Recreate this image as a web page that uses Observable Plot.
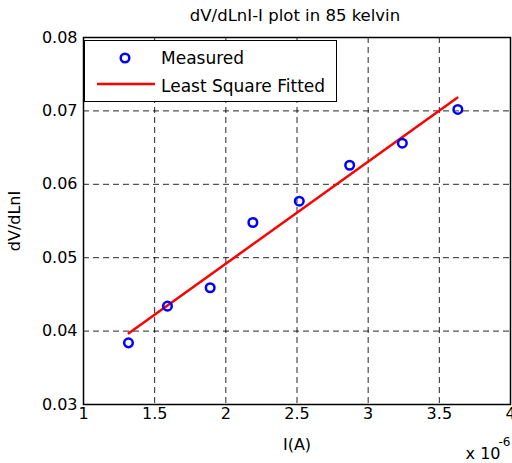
<!DOCTYPE html>
<html>
<head>
<meta charset="utf-8">
<script src="https://cdn.jsdelivr.net/npm/d3@7"></script>
<script src="https://cdn.jsdelivr.net/npm/@observablehq/plot@0.6"></script>
<style>
  html, body { margin: 0; padding: 0; background: white; }
  #wrap { position: relative; width: 512px; height: 463px; font-family: "DejaVu Sans", sans-serif; }
  #legend { position: absolute; left: 84px; top: 40px; width: 251px; height: 60px;
            border: 1px solid black; background: white; }
  #legend svg { display: block; }
</style>
</head>
<body>
<div id="wrap"></div>
<script>
// Current I in units of 1e-6 A (axis multiplier shown as "x 10^-6")
const currentI = [1.316, 1.59, 1.89, 2.19, 2.516, 2.87, 3.24, 3.63];
const dVdLnI   = [0.0384, 0.0434, 0.0459, 0.0548, 0.0577, 0.0626, 0.0656, 0.0702];
// Least-square fitted line end points
const fitI = [1.318, 3.626];
const fitV = [0.0397, 0.0718];
const xTicks = [1, 1.5, 2, 2.5, 3, 3.5, 4];
const yTicks = [0.03, 0.04, 0.05, 0.06, 0.07, 0.08];
const titleText = "dV/dLnI-I plot in 85 kelvin";
const xLabel = "I(A)";
const yLabel = "dV/dLnI";
const expBase = "x 10";
const expPow = "-6";
const legendLabels = ["Measured", "Least Square Fitted"];

const points = currentI.map((x, i) => ({x, y: dVdLnI[i]}));
const fit = fitI.map((x, i) => ({x, y: fitV[i]}));

const chart = Plot.plot({
  width: 512, height: 463,
  marginLeft: 83, marginRight: 2, marginTop: 37, marginBottom: 59,
  style: {fontFamily: "DejaVu Sans", fontSize: "16px", color: "black", background: "white", overflow: "visible"},
  x: {domain: [1, 4]},
  y: {domain: [0.03, 0.08]},
  marks: [
    Plot.gridX(xTicks, {stroke: "black", strokeOpacity: 0.85, strokeWidth: 1, strokeDasharray: "6,4"}),
    Plot.gridY(yTicks, {stroke: "black", strokeOpacity: 0.85, strokeWidth: 1, strokeDasharray: "6,4"}),
    Plot.axisX(xTicks, {tickSize: 0, tickPadding: 3, tickFormat: d => String(d), fontSize: 16,
      label: xLabel, labelAnchor: "center", labelArrow: "none", labelOffset: 45}),
    Plot.axisY(yTicks, {tickSize: 0, tickPadding: 6, tickFormat: d => d.toFixed(2), fontSize: 16,
      label: yLabel, labelAnchor: "center", labelArrow: "none", labelOffset: 75}),
    Plot.frame({stroke: "black", strokeWidth: 1.5}),
    Plot.line(fit, {x: "x", y: "y", stroke: "#ff0000", strokeWidth: 2.5}),
    Plot.dot(points, {x: "x", y: "y", r: 4.3, stroke: "#0000ff", strokeWidth: 2.5, fill: "none"}),
    Plot.text([titleText], {frameAnchor: "top", dx: -2, dy: -21.5, lineAnchor: "middle", fontSize: 16.5, fill: "black"}),
    Plot.text([expBase], {frameAnchor: "bottom-right", textAnchor: "end", dx: -10, dy: 49, lineAnchor: "middle", fontSize: 16, fill: "black"}),
    Plot.text([expPow], {frameAnchor: "bottom-right", textAnchor: "end", dx: 0, dy: 38, lineAnchor: "middle", fontSize: 12, fill: "black"})
  ]
});

const wrap = document.getElementById("wrap");
wrap.appendChild(chart);

// Legend box drawn inside the axes, as in the reference
const leg = document.createElement("div");
leg.id = "legend";
const ns = "http://www.w3.org/2000/svg";
const lsvg = document.createElementNS(ns, "svg");
lsvg.setAttribute("width", 251);
lsvg.setAttribute("height", 60);
const c = document.createElementNS(ns, "circle");
c.setAttribute("cx", 40); c.setAttribute("cy", 17); c.setAttribute("r", 4.3);
c.setAttribute("fill", "none"); c.setAttribute("stroke", "#0000ff"); c.setAttribute("stroke-width", 2.5);
lsvg.appendChild(c);
const l = document.createElementNS(ns, "line");
l.setAttribute("x1", 12); l.setAttribute("x2", 70); l.setAttribute("y1", 43); l.setAttribute("y2", 43);
l.setAttribute("stroke", "#ff0000"); l.setAttribute("stroke-width", 2.5);
lsvg.appendChild(l);
legendLabels.forEach((t, i) => {
  const tx = document.createElementNS(ns, "text");
  tx.setAttribute("x", 76); tx.setAttribute("y", i === 0 ? 23 : 51);
  tx.setAttribute("font-family", "DejaVu Sans"); tx.setAttribute("font-size", 17);
  tx.setAttribute("fill", "black");
  tx.textContent = t;
  lsvg.appendChild(tx);
});
leg.appendChild(lsvg);
wrap.appendChild(leg);
</script>
</body>
</html>
